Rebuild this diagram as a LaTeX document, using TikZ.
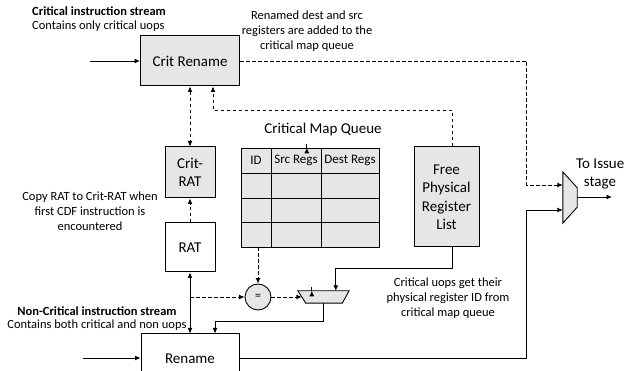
\documentclass[tikz,border=0pt]{standalone}
\usepackage{fontspec}
\setmainfont{Carlito}
\usetikzlibrary{arrows.meta,calc}
\definecolor{boxgray}{HTML}{E6E6E6}
\tikzset{
  x=1pt, y=-1pt,
  blk/.style={draw, line width=1pt, inner sep=0pt, align=center, font=\fontsize{15}{18}\selectfont},
  gblk/.style={blk, fill=boxgray},
  cell/.style={draw, line width=0.9pt, fill=boxgray, inner sep=0pt, minimum height=25pt},
  headtxt/.style={inner sep=0pt, font=\fontsize{13}{15}\selectfont},
  note/.style={align=center, font=\fontsize{12.5}{15}\selectfont, inner sep=0pt},
  bnote/.style={note, font=\bfseries\fontsize{12.5}{15}\selectfont},
  conn/.style={line width=0.9pt, -{Latex[length=5.5pt,width=5pt]}},
  dconn/.style={conn, dashed, dash pattern=on 3.5pt off 2.5pt},
  both/.style={{Latex[length=5.5pt,width=5pt]}-{Latex[length=5.5pt,width=5pt]}},
  muxshape/.style={draw, line width=0.9pt, fill=boxgray},
}
\begin{document}
\begin{tikzpicture}
\useasboundingbox (0,0) rectangle (624,371);

% main blocks
\node[gblk, minimum width=99pt, minimum height=50pt] (cr) at (190,61) {Crit Rename};
\node[gblk, minimum width=50pt, minimum height=51pt] (critrat) at (190,172.5) {Crit-\\RAT};
\node[blk, fill=white, minimum width=50pt, minimum height=49pt] (rat) at (190,247.5) {RAT};
\node[blk, fill=white, minimum width=98pt, minimum height=50pt] (rename) at (190,359) {Rename};
\node[gblk, minimum width=65pt, minimum height=100pt, font=\fontsize{15}{18.5}\selectfont] (fprl) at (446.5,197) {Free\\Physical\\Register\\List};

% critical map queue table
\node[inner sep=0pt, minimum width=138pt, minimum height=99pt] (cmq) at (310,197.5) {};
\foreach \r/\yy in {0/160.5,1/185.5,2/210.5,3/235} {
  \node[cell, minimum width=30pt] (id\r) at (256,\yy) {};
  \node[cell, minimum width=50pt] (src\r) at (296,\yy) {};
  \node[cell, minimum width=58pt] (dst\r) at (350,\yy) {};
}
\node[headtxt] at (id0) {ID};
\node[headtxt] at (src0) {Src Regs};
\node[headtxt] at (dst0) {Dest Regs};
\node[font=\fontsize{15}{18}\selectfont, inner sep=0pt] (cmqtitle) at (323,130) {Critical Map Queue};

% comparator
\node[draw, circle, line width=0.9pt, fill=boxgray, minimum size=26pt, inner sep=0pt, font=\fontsize{12}{14}\selectfont] (eq) at (258,297) {=};

% multiplexers
\node[inner sep=0pt, minimum width=51pt, minimum height=12pt] (mux2) at (323.5,297) {};
\draw[muxshape] (mux2.north west) -- (mux2.north east) -- ($(mux2.south east)+(-7,0)$) -- ($(mux2.south west)+(8,0)$) -- cycle;
\node[inner sep=0pt, minimum width=14pt, minimum height=51pt] (mux1) at (570,197.5) {};
\draw[muxshape] (mux1.north west) -- ($(mux1.north east)+(0,16)$) -- ($(mux1.south east)+(0,-16)$) -- (mux1.south west) -- cycle;

% free ends
\coordinate (in1) at (90,61);
\coordinate (in2) at (83,358);
\coordinate (out) at (612,197);

% texts
\node[bnote, anchor=west] (t1) at (32,11) {Critical instruction stream};
\node[note, anchor=west] (t2) at (32,26) {Contains only critical uops};
\node[note] (t3) at (307,31) {Renamed dest and src\\registers are added to the\\critical map queue};
\node[note] (t4) at (90,211.5) {Copy RAT to Crit-RAT when\\first CDF instruction is\\encountered};
\node[bnote] (t5) at (97,311) {Non-Critical instruction stream};
\node[note] (t6) at (97,325) {Contains both critical and non uops};
\node[note] (t7) at (448,298.5) {Critical uops get their\\physical register ID from\\critical map queue};
\node[inner sep=0pt, font=\fontsize{15}{18}\selectfont, anchor=west] (t8) at (576,164) {To Issue};
\node[inner sep=0pt, font=\fontsize{15}{18}\selectfont] (t9) at (600,183) {stage};

% connectors
\draw[conn] (in1) -- (cr.west);
\draw[dconn] (cr.east) -| ($(mux1.west)+(-36,-12.5)$) -- ($(mux1.west)+(0,-12.5)$);
\draw[dconn] ($(cmq.north west)+(66,0)$ |- cr.east) -- ($(cmq.north west)+(66,0)$);
\draw[dconn] ($(fprl.north)+(5.5,0)$) |- ($(cr.south)+(23,24)$) -- ($(cr.south)+(23,0)$);
\draw[dconn, both] (cr.south) -- (critrat.north);
\draw[dconn] (rat.north) -- (critrat.south);
\draw[conn, both] (rat.south) -- (rename.north);
\draw[dconn] (rat.south |- eq.west) -- (eq.west);
\draw[dconn] (eq.east) -- ($(mux2.west)+(4,0)$);
\draw[dconn] (eq.north |- cmq.south) -- (eq.north);
\draw[dconn] ($(mux2.north west)+(14,0)$ |- cmq.south) -- ($(mux2.north west)+(14,0)$);
\draw[conn] ($(fprl.south)+(5.5,0)$) |- ($(mux2.north west)+(38,-22)$) -- ($(mux2.north west)+(38,0)$);
\draw[conn] (mux2.south) |- ($(rename.north)+(25,-12)$) -- ($(rename.north)+(25,0)$);
\draw[conn] (in2) -- (in2 -| rename.west);
\draw[conn] (rename.east |- in2) -| ($(mux1.west)+(-36,12.5)$) -- ($(mux1.west)+(0,12.5)$);
\draw[conn] (mux1.east |- out) -- (out);
\end{tikzpicture}
\end{document}
